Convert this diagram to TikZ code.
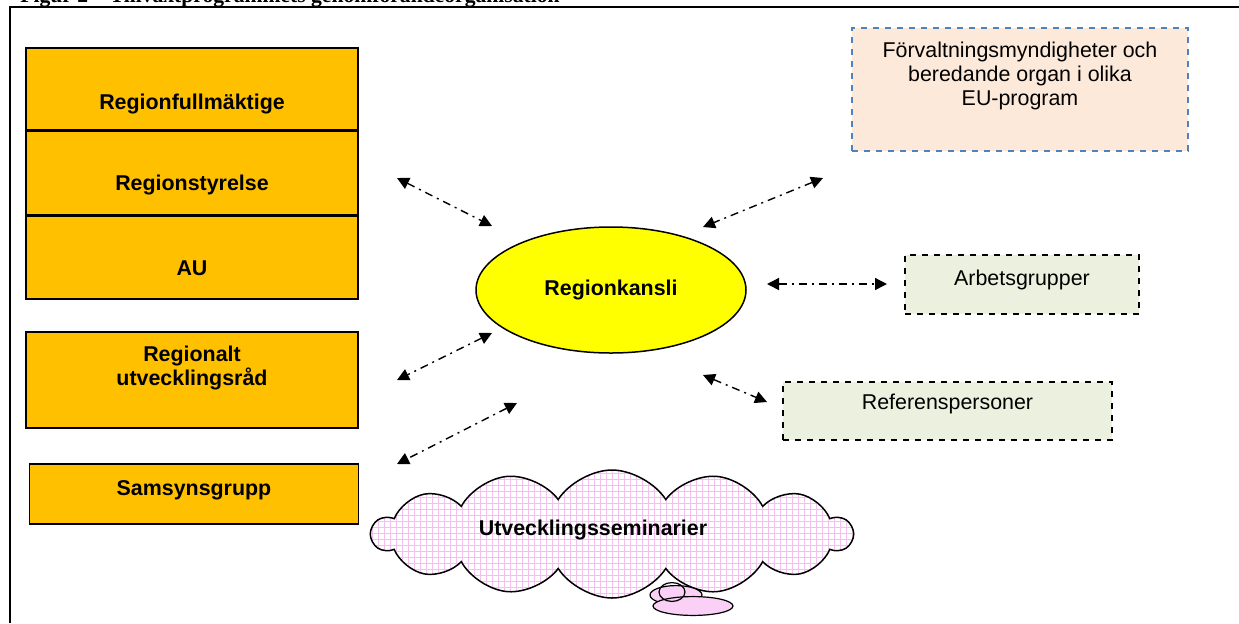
\documentclass[tikz,border=0pt]{standalone}
\usepackage{fontspec}
\setmainfont{Liberation Sans}
\newfontfamily\titlefont{Liberation Serif}
\usetikzlibrary{positioning,arrows.meta,shapes.geometric,shapes.symbols,patterns}

\definecolor{orgfill}{HTML}{FFC000}
\definecolor{kanslifill}{HTML}{FFFF00}
\definecolor{eufill}{HTML}{FDE9D9}
\definecolor{eudash}{HTML}{4F81BD}
\definecolor{groupfill}{HTML}{EBF1DE}
\definecolor{cloudfill}{HTML}{FBD0F6}
\definecolor{cloudgrid}{HTML}{F4C0EF}

\tikzset{
  txt/.style={font=\fontsize{10.7}{12}\selectfont, align=center, inner sep=0pt},
  bold/.style={txt, font=\bfseries\fontsize{10.7}{12}\selectfont},
  orgbox/.style={draw, line width=0.75pt, fill=orgfill, minimum width=166pt, inner sep=0pt},
  groupbox/.style={draw, dashed, line width=0.6pt, fill=groupfill, inner sep=0pt},
  link/.style={line width=0.7pt, dash pattern=on 4pt off 2.5pt on 1pt off 2.5pt,
    {Triangle[length=6pt,width=6pt]}-{Triangle[length=6pt,width=6pt]}}
}

\begin{document}
\begin{tikzpicture}[x=0.5pt, y=-0.5pt]
  \useasboundingbox (0,0) rectangle (1239,623);

  % title and frame
  \node (title) [anchor=base west, inner sep=0pt, font=\titlefont\bfseries\fontsize{10.8}{13}\selectfont] at (20,2)
    {Figur 2 – Tillväxtprogrammets genomförandeorganisation};
  \draw[line width=1pt] (10.3,623) -- (10.3,6.5) -- (1239,6.5);

  % political level
  \node (fullm) [orgbox, minimum height=41pt] at (192,89) {};
  \node (styr) [orgbox, minimum height=41.5pt, below=0pt of fullm] {};
  \node (au) [orgbox, minimum height=41.5pt, below=0pt of styr] {};
  \node (fullm_t) [bold] at (192,104) {Regionfullmäktige};
  \node (styr_t) [bold] at (192,185) {Regionstyrelse};
  \node (au_t) [bold] at (192,268) {AU};

  \node (rur) [orgbox, minimum height=48pt] at (192,380) {};
  \node (rur_t) [bold] at (192,368) {Regionalt\\utvecklingsråd};
  \node (sams) [orgbox, minimum width=164.5pt, minimum height=30pt] at (194,494) {};
  \node (sams_t) [bold] at (194,490) {Samsynsgrupp};

  % kansli
  \node (kansli) [ellipse, draw, line width=0.75pt, fill=kanslifill,
    minimum width=135pt, minimum height=63pt, bold] at (611,290) {Regionkansli};

  % right side
  \node (eu) [draw=eudash, dashed, line width=1pt, fill=eufill,
    minimum width=168pt, minimum height=61.5pt] at (1020,89.5) {};
  \node (eu_t) [txt] at (1020,76) {Förvaltningsmyndigheter och\\beredande organ i olika\\EU-program};
  \node (arb) [groupbox, minimum width=117pt, minimum height=29.5pt] at (1022,284.5) {};
  \node (arb_t) [txt] at (1022,280) {Arbetsgrupper};
  \node (ref) [groupbox, minimum width=164.5pt, minimum height=29pt] at (947.5,411) {};
  \node (ref_t) [txt] at (947.5,404) {Referenspersoner};

  % seminars
  \node (sem) [cloud, cloud puffs=14, cloud puff arc=115, aspect=3.7, draw, line width=0.75pt,
    fill=cloudfill, pattern=grid, pattern color=cloudgrid,
    minimum width=240pt, minimum height=64pt] at (612,534) {};
  \node (sem_t) [bold] at (593,530) {Utvecklingsseminarier};
  \node (bub1) [ellipse, draw, line width=0.6pt, fill=cloudfill,
    minimum width=26pt, minimum height=7pt] at (676,595) {};
  \node (bub2) [ellipse, draw, line width=0.6pt, fill=cloudfill,
    minimum width=40pt, minimum height=8.5pt] at (693,606) {};
  \node (bub3) [ellipse, draw, line width=0.6pt,
    minimum width=13pt, minimum height=4pt] at (672,592) {};

  % links
  \coordinate (l1a) at (397,178); \coordinate (l1b) at (492,226);
  \coordinate (l2a) at (823,178); \coordinate (l2b) at (703,227);
  \coordinate (l3a) at (767,284); \coordinate (l3b) at (887,284);
  \coordinate (l4a) at (492,333); \coordinate (l4b) at (397,380);
  \coordinate (l5a) at (517,403); \coordinate (l5b) at (397,464);
  \coordinate (l6a) at (703,375); \coordinate (l6b) at (767,402);

  \draw[link] (l1a) -- (l1b);
  \draw[link] (l2a) -- (l2b);
  \draw[link] (l3a) -- (l3b);
  \draw[link] (l4a) -- (l4b);
  \draw[link] (l5a) -- (l5b);
  \draw[link] (l6a) -- (l6b);

\end{tikzpicture}
\end{document}
